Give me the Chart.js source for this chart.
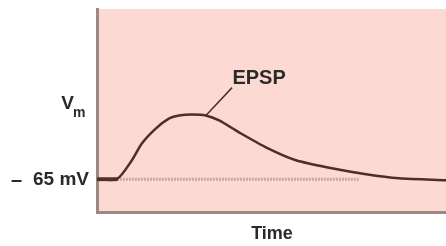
<!DOCTYPE html>
<html>
<head>
<meta charset="utf-8">
<script src="https://cdn.jsdelivr.net/npm/chart.js@4/dist/chart.umd.min.js"></script>
<style>
  body { margin: 0; background: #fff; }
  #wrap { width: 446px; height: 246px; }
</style>
</head>
<body>
<div id="wrap"><canvas id="epsp" width="446" height="246"></canvas></div>
<script>
// data (time in arbitrary units, membrane potential in mV)
const timePoints = [0, 5.7, 10.0, 12.9, 16.9, 20.7, 23.5, 27.2, 31.2, 35.0, 40.7, 48.4, 57.0, 67.3, 77.1, 86.5, 100];
const vmValues   = [-65, -65, -61.2, -57.8, -54.8, -52.8, -52.2, -52.0, -52.2, -53.2, -55.6, -58.6, -61.2, -62.8, -64.0, -64.8, -65.2];
const restTime   = [5.7, 75];
const restValue  = -65;
const preTime    = [0, 5.9];
const leaderTime = [31.2, 38.7];
const leaderVm   = [-52.2, -46.6];
const yMin = -71.6, yMax = -30.8;

const curve = timePoints.map((t, i) => ({ x: t, y: vmValues[i] }));
const rest = restTime.map(t => ({ x: t, y: restValue }));
const pre = preTime.map(t => ({ x: t, y: restValue }));
const leader = leaderTime.map((t, i) => ({ x: t, y: leaderVm[i] }));

// pink background of the plot area
const plotBg = {
  id: 'plotBg',
  beforeDraw(chart) {
    const { ctx, chartArea: a } = chart;
    ctx.save();
    ctx.fillStyle = '#fdd9d3';
    ctx.fillRect(a.left, a.top, a.right - a.left, a.bottom - a.top);
    ctx.restore();
  }
};

// text labels
const labels = {
  id: 'labels',
  afterDraw(chart) {
    const { ctx, scales } = chart;
    const x = scales.x, y = scales.y;
    const bold = s => 'bold ' + s + 'px "Liberation Sans", Arial, sans-serif';
    ctx.save();
    ctx.fillStyle = '#2a2a2a';
    ctx.textBaseline = 'middle';
    // - 65 mV
    const ry = y.getPixelForValue(-65) + 1;
    ctx.font = bold(20);
    ctx.textAlign = 'left';
    ctx.fillText('\u2013', 11, ry);
    ctx.font = bold(19);
    ctx.textAlign = 'right';
    ctx.fillText('65 mV', 89, ry);
    // V with subscript m
    ctx.font = bold(19);
    ctx.fillText('V', 74, 104);
    ctx.textAlign = 'left';
    ctx.font = bold(14);
    ctx.fillText('m', 73, 113);
    // EPSP
    ctx.font = bold(20);
    ctx.fillText('EPSP', x.getPixelForValue(38.8), 78);
    // Time
    ctx.textAlign = 'center';
    ctx.font = bold(18);
    ctx.fillText('Time', 272, 234);
    ctx.textAlign = 'left';
    ctx.font = bold(14);
    ctx.fillText('(c)', 10, 253);
    ctx.restore();
  }
};

new Chart(document.getElementById('epsp'), {
  type: 'line',
  data: {
    datasets: [
      {
        data: rest,
        borderColor: '#c9a8a3',
        borderWidth: 3,
        borderDash: [2, 1],
        pointRadius: 0,
        order: 4
      },
      {
        data: pre,
        borderColor: '#5a3c38',
        borderWidth: 4,
        pointRadius: 0,
        order: 3
      },
      {
        data: curve,
        borderColor: '#4a2f2b',
        borderWidth: 2.5,
        tension: 0.25,
        pointRadius: 0,
        order: 1
      },
      {
        data: leader,
        borderColor: '#4a2f2b',
        borderWidth: 1.5,
        pointRadius: 0,
        order: 2
      }
    ]
  },
  options: {
    responsive: false,
    animation: false,
    layout: { padding: { left: 97, top: 9, right: 0, bottom: 34 } },
    plugins: { legend: { display: false }, tooltip: { enabled: false } },
    scales: {
      x: {
        type: 'linear',
        min: 0,
        max: 100,
        grid: { display: false, drawTicks: false },
        ticks: { display: false },
        border: { color: '#9c8884', width: 3 }
      },
      y: {
        min: yMin,
        max: yMax,
        grid: { display: false, drawTicks: false },
        ticks: { display: false },
        border: { color: '#9c8884', width: 3 }
      }
    }
  },
  plugins: [plotBg, labels]
});
</script>
</body>
</html>
